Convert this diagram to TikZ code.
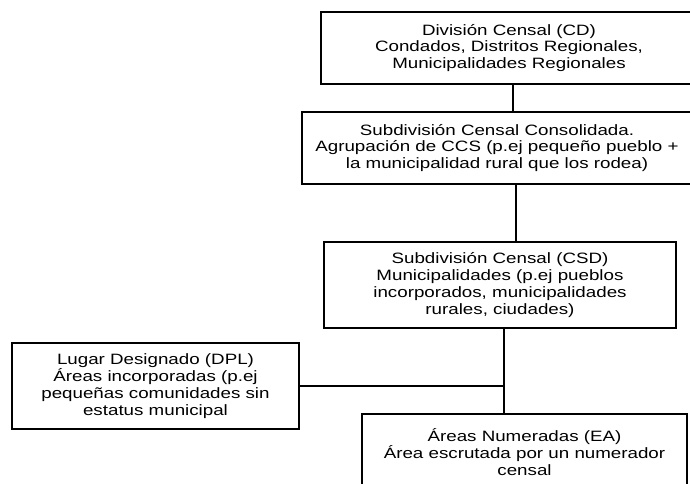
\documentclass[tikz,border=0pt]{standalone}
\usepackage{fontspec}
\setmainfont{Liberation Sans}[FakeStretch=1.25]
\usetikzlibrary{positioning}
\tikzset{
    censobox/.style={draw, line width=1.1pt, align=center, inner sep=0pt,
        font=\fontsize{15}{16.8}\selectfont},
    enlace/.style={line width=1.1pt},
}

\begin{document}
\begin{tikzpicture}[x=1pt, y=-1pt]

            \useasboundingbox (0,0) rectangle (690,483);

            % Division censal
            \node[censobox, minimum width=376pt, minimum height=72pt] (cd) at (509,48)
                {División Censal (CD)\\Condados, Distritos Regionales,\\Municipalidades Regionales};

            % Subdivision consolidada
            \node[censobox, minimum width=390pt, minimum height=72pt] (ccs) at (497,148)
                {Subdivisión Censal Consolidada.\\Agrupación de CCS (p.ej pequeño pueblo +\\la municipalidad rural que los rodea)};

            % Subdivision censal
            \node[censobox, minimum width=352pt, minimum height=86pt] (csd) at (500,285)
                {Subdivisión Censal (CSD)\\Municipalidades (p.ej pueblos\\incorporados, municipalidades\\rurales, ciudades)};

            % Lugar designado
            \node[censobox, minimum width=287pt, minimum height=86pt] (dpl) at (155.5,386)
                {Lugar Designado (DPL)\\Áreas incorporadas (p.ej\\pequeñas comunidades sin\\estatus municipal};

            % Areas numeradas
            \node[censobox, minimum width=325pt, minimum height=76pt] (ea) at (524.5,452)
                {Áreas Numeradas (EA)\\Área escrutada por un numerador\\censal};

            % Relationships
            \coordinate (union) at ([xshift=4pt]csd.south |- dpl.east);
            \draw[enlace] ([xshift=4pt]cd.south) -- ([xshift=4pt]cd.south |- ccs.north);
            \draw[enlace] ([xshift=16pt]csd.north |- ccs.south) -- ([xshift=16pt]csd.north);
            \draw[enlace] ([xshift=4pt]csd.south) -- (union) -- (union |- ea.north);
            \draw[enlace] (dpl.east) -- (union);

        \end{tikzpicture}
\end{document}
